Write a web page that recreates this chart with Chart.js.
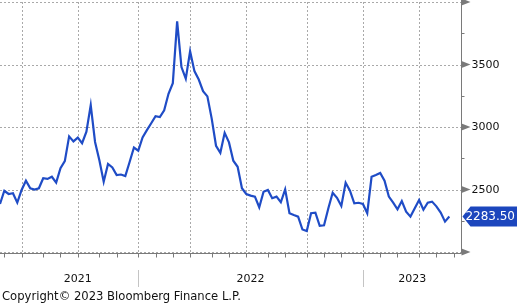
<!DOCTYPE html>
<html>
<head>
<meta charset="utf-8">
<script src="https://cdn.jsdelivr.net/npm/chart.js@4.4.0/dist/chart.umd.min.js"></script>
<style>
html,body{margin:0;padding:0;background:#fff;}
canvas{display:block;}
</style>
</head>
<body>
<canvas id="c" width="518" height="305"></canvas>
<script>
// Weekly series, first observation Fri 21 May 2021
const startDateUTC = Date.UTC(2021, 4, 21);
const values = [
  2384, 2490, 2464, 2470, 2395, 2496, 2570, 2510, 2500, 2510,
  2590, 2585, 2602, 2555, 2670, 2727, 2925, 2885, 2915, 2870,
  2963, 3175, 2880, 2734, 2562, 2705, 2677, 2616, 2620, 2608,
  2720, 2836, 2810, 2917, 2975, 3030, 3086, 3080, 3133, 3266,
  3351, 3845, 3479, 3386, 3606, 3447, 3380, 3287, 3245, 3067,
  2850, 2794, 2953, 2877, 2730, 2682, 2510, 2464, 2451, 2443,
  2358, 2482, 2496, 2430, 2443, 2398, 2501, 2310, 2296, 2283,
  2180, 2167, 2310, 2315, 2209, 2214, 2350, 2474, 2434, 2368,
  2554, 2490, 2389, 2394, 2384, 2310, 2602, 2616, 2632, 2570,
  2443, 2395, 2342, 2408, 2323, 2283, 2350, 2416, 2338, 2395,
  2403, 2365, 2315, 2243, 2283.5
];
const yTicks = [2000, 2500, 3000, 3500, 4000];
const yTickLabels = ['', '2500', '3000', '3500', ''];
const yMinorTicks = [2250, 2750, 3250, 3750];
const yearLabels = ['2021', '2022', '2023'];
const yearLabelAt = [18, 58, 95.4];   // week index where each year label is centred
const lastLabel = '2283.50';
const copyright = 'Copyright\u00A9 2023 Bloomberg Finance L.P.';

const X_MAX = 106.7;
const WEEK = 7 * 86400000;
function dateOf(i){ return new Date(startDateUTC + i * WEEK); }

// month-end ticks: last weekly observation of each month
const monthTicks = [];
for (let i = 0; i <= Math.floor(X_MAX); i++) {
  if (dateOf(i).getUTCMonth() !== dateOf(i + 1).getUTCMonth()) {
    monthTicks.push({ i: i, m: dateOf(i).getUTCMonth() });
  }
}
const quarterLines = monthTicks.filter(t => t.m % 3 === 2).map(t => t.i);
const yearLines = monthTicks.filter(t => t.m === 11).map(t => t.i);

const points = values.map((v, i) => ({ x: i, y: v }));

const FONT = '11px "DejaVu Sans", sans-serif';
const AXIS = '#7a7a7a';

const deco = {
  id: 'deco',
  beforeDatasetsDraw(chart) {
    const { ctx, chartArea: a, scales: { x, y } } = chart;
    ctx.save();
    ctx.strokeStyle = '#a9a9a9';
    ctx.lineWidth = 1;
    ctx.setLineDash([2, 2]);
    yTicks.forEach(v => {
      const py = Math.round(y.getPixelForValue(v)) + 0.5;
      ctx.beginPath(); ctx.moveTo(a.left, py); ctx.lineTo(a.right, py); ctx.stroke();
    });
    quarterLines.forEach(i => {
      const px = Math.round(x.getPixelForValue(i)) + 0.5;
      ctx.beginPath(); ctx.moveTo(px, a.top); ctx.lineTo(px, a.bottom); ctx.stroke();
    });
    ctx.restore();
  },
  afterDatasetsDraw(chart) {
    const { ctx, chartArea: a, scales: { x, y } } = chart;
    ctx.save();
    const ax = Math.round(a.right) + 0.5;
    const by = Math.round(a.bottom) + 1.5;
    ctx.strokeStyle = AXIS;
    ctx.fillStyle = AXIS;
    ctx.lineWidth = 1;
    ctx.beginPath(); ctx.moveTo(ax, 0); ctx.lineTo(ax, by); ctx.stroke();
    ctx.beginPath(); ctx.moveTo(a.left, by); ctx.lineTo(ax, by); ctx.stroke();
    monthTicks.forEach(t => {
      const px = Math.round(x.getPixelForValue(t.i)) + 0.5;
      ctx.beginPath(); ctx.moveTo(px, by); ctx.lineTo(px, by + 4); ctx.stroke();
    });
    yMinorTicks.forEach(v => {
      const py = Math.round(y.getPixelForValue(v)) + 0.5;
      ctx.beginPath(); ctx.moveTo(ax, py); ctx.lineTo(ax + 3, py); ctx.stroke();
    });
    ctx.font = FONT;
    ctx.textBaseline = 'middle';
    ctx.textAlign = 'left';
    yTicks.forEach((v, k) => {
      const py = y.getPixelForValue(v);
      ctx.fillStyle = AXIS;
      ctx.beginPath();
      ctx.moveTo(ax, py - 3.5); ctx.lineTo(ax + 9, py); ctx.lineTo(ax, py + 3.5);
      ctx.closePath(); ctx.fill();
      if (yTickLabels[k]) {
        ctx.fillStyle = '#111';
        ctx.fillText(yTickLabels[k], ax + 10, py + 0.5);
      }
    });
    ctx.strokeStyle = '#c4c4c4';
    yearLines.forEach(i => {
      const px = Math.round(x.getPixelForValue(i)) + 0.5;
      ctx.beginPath(); ctx.moveTo(px, 270); ctx.lineTo(px, 287); ctx.stroke();
    });
    ctx.fillStyle = '#111';
    ctx.textAlign = 'center';
    yearLabels.forEach((t, k) => {
      ctx.fillText(t, x.getPixelForValue(yearLabelAt[k]), 279);
    });
    ctx.textAlign = 'left';
    ctx.font = '11.6px "DejaVu Sans", sans-serif';
    ctx.fillText(copyright, 2, 297);
    const lv = values[values.length - 1];
    const ly = y.getPixelForValue(lv);
    const tx = ax + 1;
    ctx.fillStyle = '#1c46bd';
    ctx.beginPath();
    ctx.moveTo(tx, ly);
    ctx.lineTo(tx + 8, ly - 10);
    ctx.lineTo(517, ly - 10);
    ctx.lineTo(517, ly + 10);
    ctx.lineTo(tx + 8, ly + 10);
    ctx.closePath();
    ctx.fill();
    ctx.fillStyle = '#fff';
    ctx.font = '12px "DejaVu Sans", sans-serif';
    ctx.textAlign = 'right';
    ctx.fillText(lastLabel, 515, ly + 0.5);
    ctx.restore();
  }
};

new Chart(document.getElementById('c'), {
  type: 'line',
  data: {
    datasets: [{
      data: points,
      borderColor: '#1f4cc6',
      borderWidth: 2.2,
      pointRadius: 0,
      tension: 0,
      fill: false
    }]
  },
  options: {
    responsive: false,
    animation: false,
    events: [],
    layout: { padding: { left: 0, top: 2, right: 57, bottom: 53 } },
    plugins: { legend: { display: false }, tooltip: { enabled: false } },
    scales: {
      x: { type: 'linear', display: false, min: 0, max: X_MAX },
      y: { type: 'linear', display: false, min: 2000, max: 4000 }
    }
  },
  plugins: [deco]
});
</script>
</body>
</html>
